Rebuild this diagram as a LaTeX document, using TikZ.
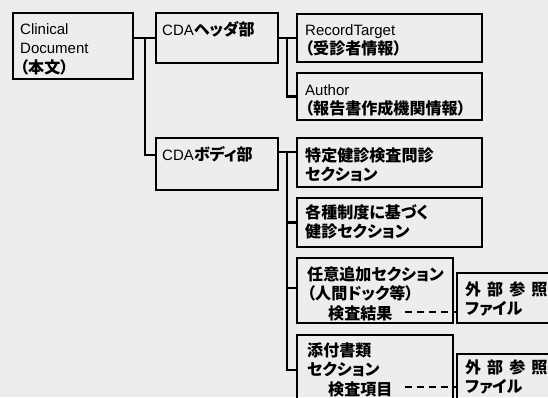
\documentclass[tikz,border=0pt]{standalone}
\usepackage{fontspec}
\setmainfont{Liberation Sans}
\newfontfamily\jpfam[Scale=1.07,RawFeature=+palt]{Noto Sans CJK JP}
\newcommand\jp{\jpfam\bfseries}
\newcommand\ml[1]{\vtop{\baselineskip=19.5pt\lineskiplimit=-100pt\lineskip=0pt\halign{##\hfil\cr#1\crcr}}}
\begin{document}
\begin{tikzpicture}[x=1pt,y=-1pt,
  box/.style={draw, line width=2.6pt, anchor=north west, inner sep=0pt, outer sep=0pt, line join=miter},
  txt/.style={anchor=base west, inner sep=0pt, font=\fontsize{15pt}{19.5pt}\selectfont},
  conn/.style={line width=2.5pt, line join=miter},
  refline/.style={line width=2.5pt, dash pattern=on 7pt off 5pt}]
\useasboundingbox (0,0) rectangle (548,397);
\clip (0,0) rectangle (548,397);
\fill[black!7] (0,0) rectangle (548,397);
% boxes
\node[box, minimum width=120pt, minimum height=66pt] (doc) at (13,13) {};
\node[box, minimum width=122pt, minimum height=50pt] (hdr) at (156,13) {};
\node[box, minimum width=122pt, minimum height=52pt] (body) at (156,138) {};
\node[box, minimum width=185pt, minimum height=48pt] (rt) at (297,14) {};
\node[box, minimum width=185pt, minimum height=47pt] (au) at (297,73) {};
\node[box, minimum width=185pt, minimum height=49pt] (s1) at (297,138) {};
\node[box, minimum width=185pt, minimum height=49pt] (s2) at (297,198) {};
\node[box, minimum width=156pt, minimum height=65pt] (s3) at (297,258) {};
\node[box, minimum width=156pt, minimum height=70pt] (s4) at (297,335) {};
\node[box, minimum width=140pt, minimum height=50pt] (e1) at (457,273) {};
\node[box, minimum width=140pt, minimum height=70pt] (e2) at (457,354) {};
% texts
\node[txt] (tdoc) at (20,34) {\ml{Clinical\cr Document\cr{\jp （本文）}}};
\node[txt] (thdr) at (162,35) {CDA{\jp ヘッダ部}};
\node[txt] (tbody) at (162,160) {CDA{\jp ボディ部}};
\node[txt] (trt) at (305,35) {\ml{RecordTarget\cr{\jp （受診者情報）}}};
\node[txt] (tau) at (305,95) {\ml{Author\cr{\jp （報告書作成機関情報）}}};
\node[txt] (ts1) at (305,161) {\ml{{\jp 特定健診検査問診}\cr{\jp セクション}}};
\node[txt] (ts2) at (305,218) {\ml{{\jp 各種制度に基づく}\cr{\jp 健診セクション}}};
\node[txt] (ts3) at (307,280) {\ml{{\jp 任意追加セクション}\cr{\jp （人間ドック等）}\cr\hspace{21pt}{\jp 検査結果}}};
\node[txt] (ts4) at (307,356) {\ml{{\jp 添付書類}\cr{\jp セクション}\cr\hspace{21pt}{\jp 検査項目}}};
\node[txt] (te1) at (465,295) {\ml{{\jp\spaceskip=6pt 外 部 参 照}\cr{\jp ファイル}}};
\node[txt] (te2) at (465,373) {\ml{{\jp\spaceskip=6pt 外 部 参 照}\cr{\jp ファイル}}};
% connectors
\coordinate (j1) at (145,38);
\coordinate (j2) at (287,38);
\coordinate (j3) at (287,152);
\draw[conn] (doc.east |- hdr.west) -- (hdr.west);
\draw[conn] (j1) |- ([yshift=9pt]body.west);
\draw[conn] (hdr.east) -- (rt.west);
\draw[conn] (j2) |- (au.west);
\draw[conn] ([yshift=12pt]body.east) -- ([yshift=10.5pt]s1.west);
\draw[conn] (j3) |- (s2.west);
\draw[conn] (j3) |- ([yshift=2.5pt]s3.west);
\draw[conn] (j3) |- (s4.west);
% external reference links
\coordinate (d1) at (405,312);
\coordinate (d2) at (405,387);
\draw[refline] (d1) -- (d1 -| e1.west);
\draw[refline] (d2) -- (d2 -| e2.west);
\end{tikzpicture}
\end{document}
